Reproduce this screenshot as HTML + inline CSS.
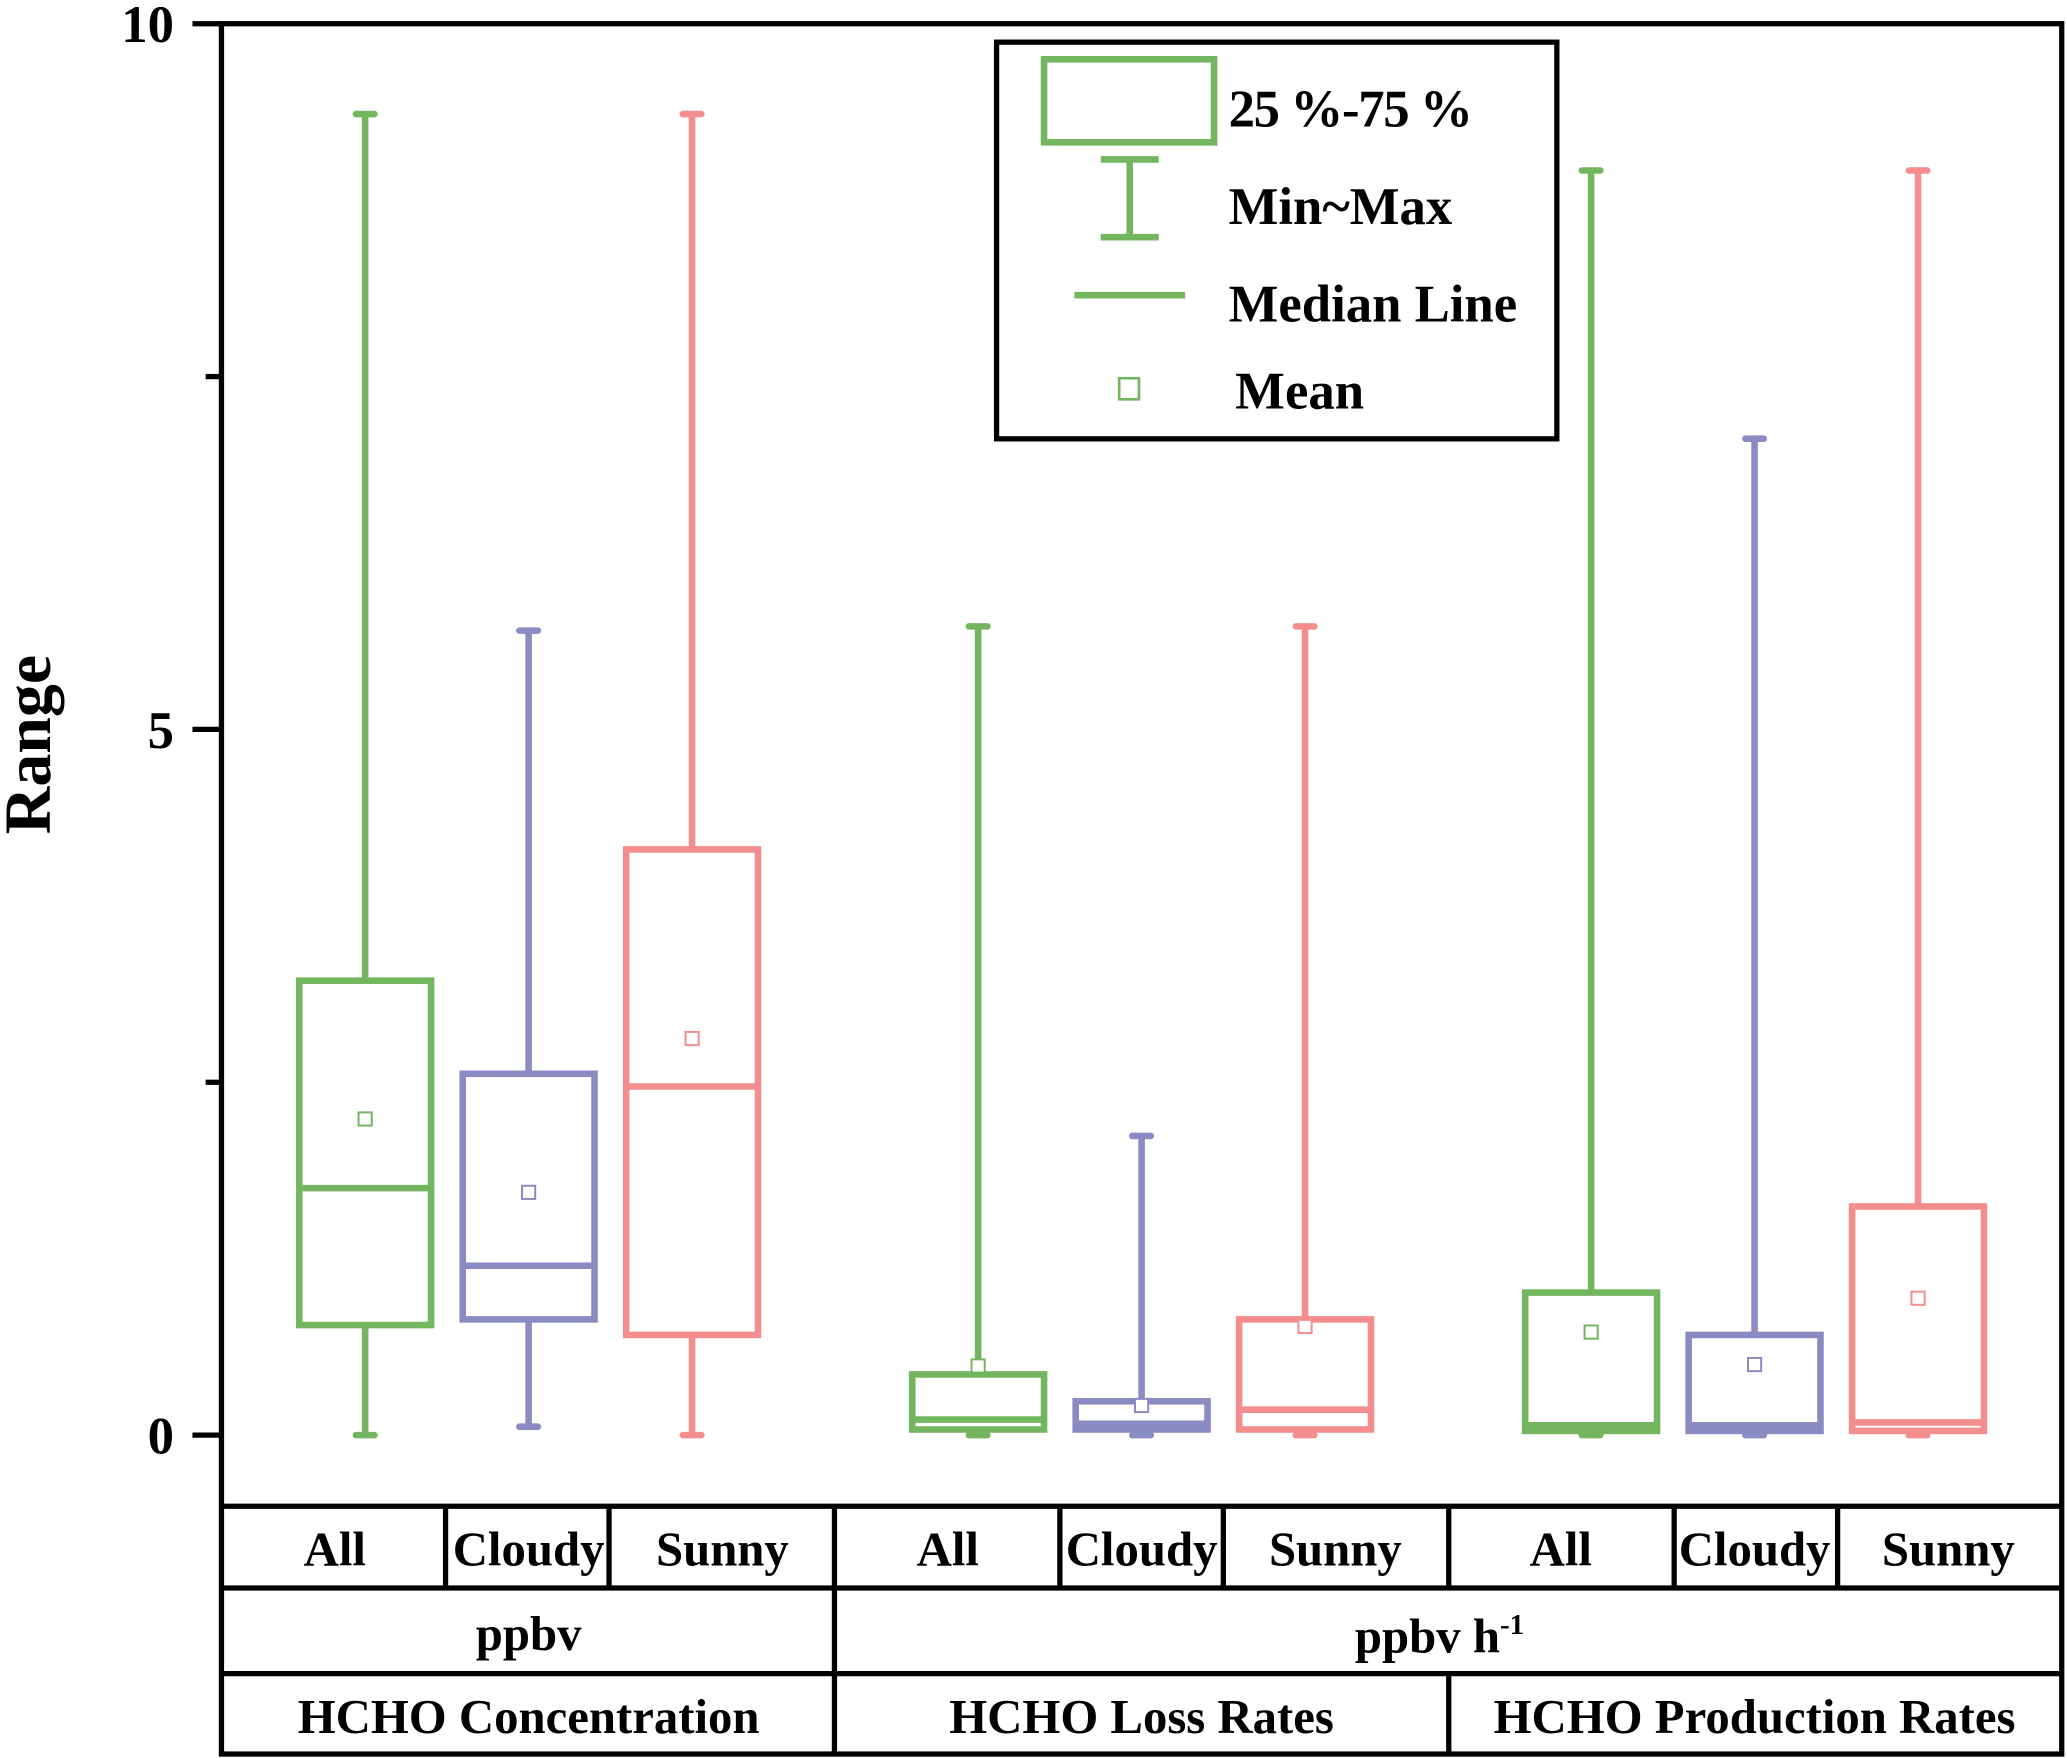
<!DOCTYPE html>
<html><head><meta charset="utf-8"><style>
html,body{margin:0;padding:0;background:#fff}
svg{display:block}
text{font-family:"Liberation Serif",serif;font-weight:bold;fill:#000}
</style></head><body>
<svg id="chart" width="2067" height="1758" viewBox="0 0 1568 1334" preserveAspectRatio="none" xmlns="http://www.w3.org/2000/svg">
<g id="frame"></g>
<g id="marks"></g>
<g id="table"></g>
<g id="legend">
  <rect x="756" y="32" width="425" height="301" fill="none" stroke="#000" stroke-width="4"/>
  <rect x="792" y="45" width="129" height="63" fill="none" stroke="#74b55f" stroke-width="5"/>
  <text x="932" y="96" font-size="40" letter-spacing="-1">25 %-75 %</text>
  <line x1="857" y1="121" x2="857" y2="180" stroke="#74b55f" stroke-width="5"/>
  <line x1="835" y1="121" x2="879" y2="121" stroke="#74b55f" stroke-width="5"/>
  <line x1="835" y1="180" x2="879" y2="180" stroke="#74b55f" stroke-width="5"/>
  <text x="932" y="170" font-size="40">Min~Max</text>
  <line x1="815" y1="224" x2="899" y2="224" stroke="#74b55f" stroke-width="5"/>
  <text x="932" y="244" font-size="40">Median Line</text>
  <rect x="849" y="287" width="15" height="16" fill="none" stroke="#74b55f" stroke-width="2"/>
  <text x="937" y="310" font-size="40">Mean</text>
</g>
</svg>
<script>
const categories=["All","Cloudy","Sunny","All","Cloudy","Sunny","All","Cloudy","Sunny"];
const mins=[0,0.06,0,0,0,0,0,0,0];
const q1s=[0.78,0.82,0.71,0.04,0.04,0.04,0.03,0.03,0.03];
const medians=[1.75,1.20,2.47,0.11,0.08,0.18,0.07,0.07,0.09];
const q3s=[3.22,2.56,4.15,0.43,0.24,0.82,1.01,0.71,1.62];
const maxs=[9.36,5.70,9.36,5.73,2.12,5.73,8.96,7.06,8.96];
const means=[2.24,1.72,2.81,0.49,0.21,0.77,0.73,0.50,0.97];
const colors=["#74b55f","#8b8bc4","#f48e8e","#74b55f","#8b8bc4","#f48e8e","#74b55f","#8b8bc4","#f48e8e"];
const centers=[277,401,525,742,866,990,1207,1331,1455];
const yTicks=[0,5,10];
const NS="http://www.w3.org/2000/svg";
const y=v=>1089-v*(1089-18)/10;
function mk(p,tag,a){const e=document.createElementNS(NS,tag);for(const k in a)e.setAttribute(k,a[k]);p.appendChild(e);return e;}
const frame=document.getElementById('frame');
const fr=mk(frame,'rect',{x:168,y:18,width:1396,height:1313,fill:'none',stroke:'#000','stroke-width':4});


yTicks.forEach(t=>{
  mk(frame,'line',{x1:146,y1:y(t),x2:168,y2:y(t),stroke:'#000','stroke-width':4});
  const tx=mk(frame,'text',{x:132,y:y(t)+14,'font-size':40,'text-anchor':'end'});
  tx.textContent=t;
  
  
});
[2.5,7.5].forEach(t=>mk(frame,'line',{x1:156,y1:y(t),x2:168,y2:y(t),stroke:'#000','stroke-width':4}));
const yt=mk(frame,'text',{x:0,y:0,'font-size':50,'text-anchor':'middle',transform:'translate(38,565) rotate(-90)'});
yt.textContent='Range';


const marks=document.getElementById('marks');
const hw=50,cap=7;
categories.forEach((c,i)=>{
  const g=mk(marks,'g',{stroke:colors[i],fill:'none','stroke-width':5});
  
  
  const x=centers[i];
  mk(g,'line',{x1:x,y1:y(maxs[i]),x2:x,y2:y(q3s[i])});
  mk(g,'line',{x1:x,y1:y(q1s[i]),x2:x,y2:y(mins[i])});
  mk(g,'line',{x1:x-cap,y1:y(maxs[i]),x2:x+cap,y2:y(maxs[i]),'stroke-linecap':'round'});
  mk(g,'line',{x1:x-cap,y1:y(mins[i]),x2:x+cap,y2:y(mins[i]),'stroke-linecap':'round'});
  mk(g,'rect',{x:x-hw,y:y(q3s[i]),width:2*hw,height:y(q1s[i])-y(q3s[i]),fill:'#fff'});
  mk(g,'line',{x1:x-hw,y1:y(medians[i]),x2:x+hw,y2:y(medians[i])});
  mk(g,'rect',{x:x-5,y:y(means[i])-5,width:10,height:10,'stroke-width':1.5,fill:'#fff'});
});
const tb=document.getElementById('table');
[[1143,168,1564],[1205,168,1564],[1270,168,1564]].forEach(r=>mk(tb,'line',{x1:r[1],y1:r[0],x2:r[2],y2:r[0],stroke:'#000','stroke-width':4}));
[338,462,804,928,1270,1394].forEach(x=>mk(tb,'line',{x1:x,y1:1143,x2:x,y2:1205,stroke:'#000','stroke-width':4}));
mk(tb,'line',{x1:633,y1:1143,x2:633,y2:1332,stroke:'#000','stroke-width':4});
[1099].forEach(x=>{mk(tb,'line',{x1:x,y1:1143,x2:x,y2:1205,stroke:'#000','stroke-width':4});mk(tb,'line',{x1:x,y1:1270,x2:x,y2:1332,stroke:'#000','stroke-width':4});});
const catX=[254,401,548,719,866,1013,1184,1331,1478];
categories.forEach((c,i)=>{
  const t=mk(tb,'text',{x:catX[i],y:1188,'font-size':37,'text-anchor':'middle'});
  t.textContent=c;
  
  
});
const u1=mk(tb,'text',{x:401,y:1252,'font-size':37,'text-anchor':'middle'});u1.textContent='ppbv';


const u2=mk(tb,'text',{x:1092,y:1254,'font-size':37,'text-anchor':'middle'});u2.innerHTML='ppbv h<tspan dy="-14" font-size="22">-1</tspan>';


[['HCHO Concentration',401],['HCHO Loss Rates',866],['HCHO Production Rates',1331]].forEach(g=>{
  const t=mk(tb,'text',{x:g[1],y:1315,'font-size':37,'text-anchor':'middle'});t.textContent=g[0];
  
  
});
</script>
</body></html>
